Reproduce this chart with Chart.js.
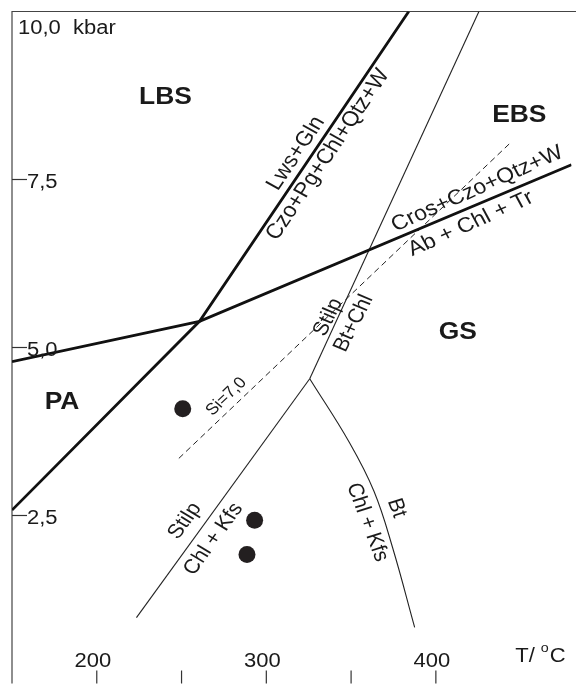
<!DOCTYPE html>
<html>
<head>
<meta charset="utf-8">
<script src="https://cdn.jsdelivr.net/npm/chart.js@4.4.1/dist/chart.umd.min.js"></script>
<style>
  html, body { margin: 0; padding: 0; background: #fff; overflow: hidden; }
</style>
</head>
<body>
<canvas id="grafico" width="580" height="692"></canvas>
<script>
// Eixos: T em °C, P em kbar
const xMin = 150, xMax = 480;
const yMin = 0, yMax = 10;
const xTicks = [200, 250, 300, 350, 400];
const xTickLabels = [200, 300, 400];
const yTicks = [2.5, 5.0, 7.5];
const yTickLabels = ["2,5", "5,0", "7,5"];

// Curva grossa Lws+Gln / Czo+Pg+Chl+Qtz+W
const lwsT = [150, 260.6, 384];
const lwsP = [2.58, 5.39, 10.0];

// Curva grossa Cros+Czo+Qtz+W / Ab+Chl+Tr
const crosT = [150, 260.6, 480];
const crosP = [4.79, 5.39, 7.72];

// Stilp / Bt+Chl (acima do ponto triplo)
const stilpAltoT = [325.6, 425.4];
const stilpAltoP = [4.535, 10.0];

// Stilp / Chl+Kfs
const stilpBaixoT = [325.6, 223.4];
const stilpBaixoP = [4.535, 0.98];

// Bt / Chl+Kfs
const btT = [325.6, 349.0, 363.5, 374.5, 387.5];
const btP = [4.535, 3.586, 2.86, 2.02, 0.836];

// Isopleta Si=7,0
const siT = [248.4, 443.3];
const siP = [3.35, 8.03];

// Amostras
const amostraT = [250.7, 293.1, 288.6];
const amostraP = [4.09, 2.43, 1.92];

function serie(T, P) {
    return T.map((t, i) => ({ x: t, y: P[i] }));
}

const sx = 1.1; // o original está um pouco esticado na horizontal

function texto(ctx, s, x, y, graus, fonte, align, base) {
    let th = graus * Math.PI / 180;
    let a = Math.atan2(Math.sin(th), Math.cos(th) / sx);
    ctx.save();
    ctx.translate(x, y);
    ctx.scale(sx, 1);
    ctx.rotate(a);
    ctx.font = fonte + ' "Liberation Sans", Arial, sans-serif';
    ctx.fillStyle = "#1a1a1a";
    ctx.textAlign = align;
    ctx.textBaseline = base;
    ctx.fillText(s, 0, 0);
    ctx.restore();
}

// Rótulos ao longo das curvas: texto, T, P, ângulo, fonte
const rotulos = [
    ["Lws+Gln", 317.5, 7.89, -56, "21px"],
    ["Czo+Pg+Chl+Qtz+W", 336.3, 7.87, -56, "21px"],
    ["Cros+Czo+Qtz+W", 424.4, 7.36, -24, "21px"],
    ["Ab + Chl + Tr", 420.6, 6.84, -24, "21px"],
    ["Stilp", 336.5, 5.45, -63, "20px"],
    ["Bt+Chl", 351.5, 5.36, -63, "20px"],
    ["Si=7,0", 276.4, 4.27, -43.6, "16px"],
    ["Stilp", 251.9, 2.42, -54, "20px"],
    ["Chl + Kfs", 268.8, 2.15, -54, "20px"],
    ["Chl + Kfs", 359.6, 2.40, 69, "20px"],
    ["Bt", 376.8, 2.61, 69, "20px"]
];

const campos = [
    ["LBS", 240.5, 8.62],
    ["EBS", 449.2, 8.36],
    ["GS", 413.0, 5.13],
    ["PA", 179.5, 4.08]
];

const desenhos = {
    id: "desenhos",
    beforeDatasetsDraw(chart) {
        let ctx = chart.ctx;
        let a = chart.chartArea;
        ctx.save();
        ctx.strokeStyle = "#444";
        ctx.lineWidth = 1.2;
        ctx.beginPath();
        ctx.moveTo(a.left, a.bottom);
        ctx.lineTo(a.left, a.top);
        ctx.lineTo(a.right + 5, a.top);
        ctx.stroke();
        ctx.restore();
    },
    afterDatasetsDraw(chart) {
        let ctx = chart.ctx;
        let a = chart.chartArea;
        let sX = chart.scales.x;
        let sY = chart.scales.y;

        // marcas dos eixos (para dentro)
        ctx.save();
        ctx.strokeStyle = "#333";
        ctx.lineWidth = 1.2;
        yTicks.forEach(v => {
            let py = sY.getPixelForValue(v);
            ctx.beginPath();
            ctx.moveTo(a.left, py);
            ctx.lineTo(a.left + 15, py);
            ctx.stroke();
        });
        xTicks.forEach(v => {
            let px = sX.getPixelForValue(v);
            ctx.beginPath();
            ctx.moveTo(px, a.bottom);
            ctx.lineTo(px, a.bottom - 13);
            ctx.stroke();
        });
        ctx.restore();

        yTicks.forEach((v, i) => {
            texto(ctx, yTickLabels[i], a.left + 15, sY.getPixelForValue(v) + 8.5, 0, "20px", "left", "alphabetic");
        });
        xTickLabels.forEach(v => {
            texto(ctx, String(v), sX.getPixelForValue(v) - 4, a.bottom - 17, 0, "20px", "center", "alphabetic");
        });
        texto(ctx, "10,0  kbar", a.left + 6, sY.getPixelForValue(yMax) + 22.5, 0, "20px", "left", "alphabetic");

        // T/ °C
        let tx = sX.getPixelForValue(446.8);
        let ty = a.bottom - 22;
        ctx.font = '20px "Liberation Sans", Arial, sans-serif';
        let w1 = ctx.measureText("T/ ").width * sx;
        texto(ctx, "T/ ", tx, ty, 0, "20px", "left", "alphabetic");
        ctx.font = '13px "Liberation Sans", Arial, sans-serif';
        let w2 = ctx.measureText("o").width * sx;
        texto(ctx, "o", tx + w1, ty - 10, 0, "13px", "left", "alphabetic");
        texto(ctx, "C", tx + w1 + w2 + 1, ty, 0, "20px", "left", "alphabetic");

        campos.forEach(c => {
            texto(ctx, c[0], sX.getPixelForValue(c[1]), sY.getPixelForValue(c[2]), 0, "bold 24px", "center", "alphabetic");
        });
        rotulos.forEach(r => {
            texto(ctx, r[0], sX.getPixelForValue(r[1]), sY.getPixelForValue(r[2]), r[3], r[4], "center", "middle");
        });
    }
};

const linhaGrossa = { showLine: true, borderColor: "#111", borderWidth: 2.8, pointRadius: 0, fill: false };
const linhaFina = { showLine: true, borderColor: "#222", borderWidth: 1.1, pointRadius: 0, fill: false };

let ctx = document.getElementById("grafico").getContext("2d");
window.myChart = new Chart(ctx, {
    type: "scatter",
    data: {
        datasets: [
            Object.assign({ data: serie(lwsT, lwsP) }, linhaGrossa),
            Object.assign({ data: serie(crosT, crosP) }, linhaGrossa),
            Object.assign({ data: serie(stilpAltoT, stilpAltoP) }, linhaFina),
            Object.assign({ data: serie(stilpBaixoT, stilpBaixoP) }, linhaFina),
            Object.assign({ data: serie(btT, btP) }, linhaFina, { tension: 0.4 }),
            Object.assign({ data: serie(siT, siP) }, linhaFina, { borderDash: [6, 4], borderWidth: 1 }),
            {
                data: serie(amostraT, amostraP),
                showLine: false,
                pointRadius: 8.5,
                pointStyle: "circle",
                backgroundColor: "#231f20",
                borderWidth: 0
            }
        ]
    },
    options: {
        responsive: false,
        animation: false,
        layout: { padding: { left: 12, top: 11.5, right: 3, bottom: 2 } },
        plugins: { legend: { display: false }, tooltip: { enabled: false } },
        scales: {
            x: { type: "linear", min: xMin, max: xMax, display: false },
            y: { type: "linear", min: yMin, max: yMax, display: false }
        }
    },
    plugins: [desenhos]
});
</script>
</body>
</html>
